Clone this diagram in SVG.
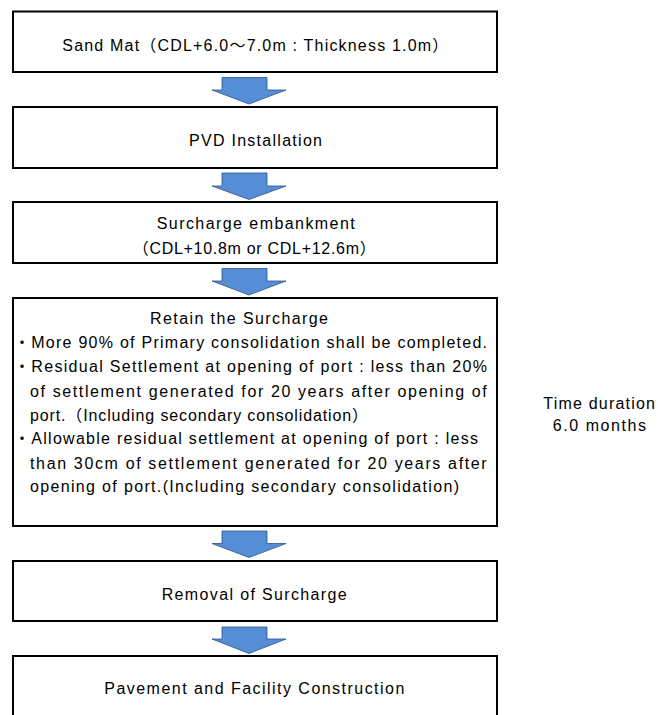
<svg xmlns="http://www.w3.org/2000/svg" width="658" height="715" viewBox="0 0 658 715">
<style>
.box{fill:#fff;stroke:#000;stroke-width:2}
.t{font-family:"Liberation Sans","Noto Sans CJK JP",sans-serif;font-size:16px;fill:#000}
.arr{fill:#558ED5;stroke:#2F528F;stroke-width:0.8;stroke-linejoin:miter}
</style>
<rect width="658" height="715" fill="#fff"/>
<g id="connectors">
<path class="arr" d="M222,77.5 H267 V90 H286 L249,104 L212,90 H222 Z"/>
<path class="arr" d="M222,173 H267 V186 H286 L249,199.5 L212,186 H222 Z"/>
<path class="arr" d="M222,268.5 H267 V281 H286 L249,295 L212,281 H222 Z"/>
<path class="arr" d="M222,531 H267 V543.5 H286 L249,557.5 L212,543.5 H222 Z"/>
<path class="arr" d="M222,627 H267 V639 H286 L249,653.5 L212,639 H222 Z"/>
</g>
<g id="sandmat">
<rect class="box" x="13" y="11.5" width="484" height="60.5"/>
<text class="t" x="62.3" y="50.5" textLength="386" lengthAdjust="spacing">Sand Mat（CDL+6.0～7.0m : Thickness 1.0m）</text>
</g>
<g id="pvd">
<rect class="box" x="13" y="107" width="484" height="61"/>
<text class="t" x="189" y="145.5" textLength="133" lengthAdjust="spacing">PVD Installation</text>
</g>
<g id="surcharge">
<rect class="box" x="13" y="202" width="484" height="61"/>
<text class="t" x="156.7" y="229" textLength="198" lengthAdjust="spacing">Surcharge embankment</text>
<text class="t" x="132.7" y="253.5" textLength="243" lengthAdjust="spacing">（CDL+10.8m or CDL+12.6m）</text>
</g>
<g id="retain">
<rect class="box" x="13" y="298" width="484" height="228"/>
<text class="t" x="150" y="323.5" textLength="178" lengthAdjust="spacing">Retain the Surcharge</text>
<text class="t" x="14" y="348" textLength="473" lengthAdjust="spacing">・More 90% of Primary consolidation shall be completed.</text>
<text class="t" x="14" y="372" textLength="473" lengthAdjust="spacing">・Residual Settlement at opening of port : less than 20%</text>
<text class="t" x="30" y="396.5" textLength="456.7" lengthAdjust="spacing">of settlement generated for 20 years after opening of</text>
<text class="t" x="30" y="420.5" textLength="338" lengthAdjust="spacing">port.（Including secondary consolidation）</text>
<text class="t" x="14" y="444" textLength="464" lengthAdjust="spacing">・Allowable residual settlement at opening of port : less</text>
<text class="t" x="30" y="468.5" textLength="456.7" lengthAdjust="spacing">than 30cm of settlement generated for 20 years after</text>
<text class="t" x="30" y="492" textLength="429" lengthAdjust="spacing">opening of port.(Including secondary consolidation)</text>
</g>
<g id="duration">
<text class="t" x="543.3" y="408.5" textLength="111.7" lengthAdjust="spacing">Time duration</text>
<text class="t" x="552.7" y="430.5" textLength="93.3" lengthAdjust="spacing">6.0 months</text>
</g>
<g id="removal">
<rect class="box" x="13" y="561" width="484" height="60"/>
<text class="t" x="161.7" y="599.5" textLength="185" lengthAdjust="spacing">Removal of Surcharge</text>
</g>
<g id="pavement">
<rect class="box" x="13" y="656" width="484" height="80"/>
<text class="t" x="104.3" y="693.5" textLength="300" lengthAdjust="spacing">Pavement and Facility Construction</text>
</g>
</svg>
